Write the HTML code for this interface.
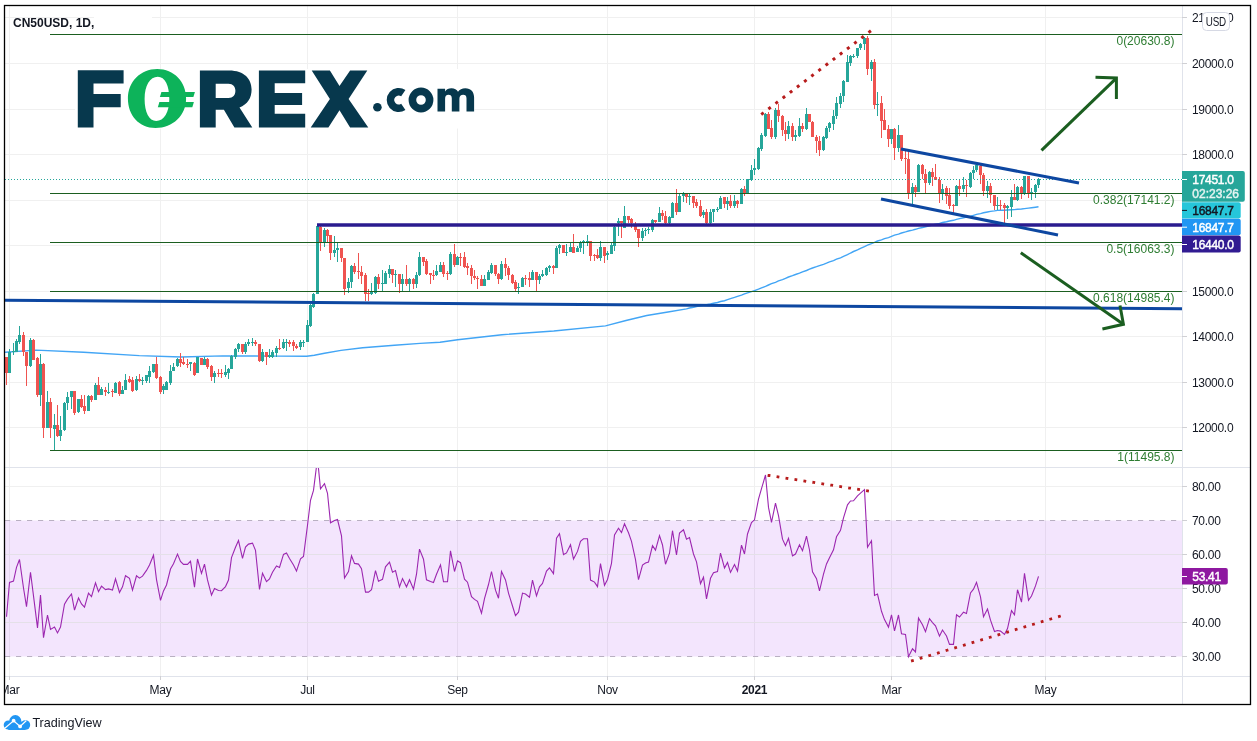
<!DOCTYPE html>
<html><head><meta charset="utf-8"><style>
html,body{margin:0;padding:0;background:#fff;}
body{width:1257px;height:741px;overflow:hidden;position:relative;font-family:"Liberation Sans",sans-serif;}
svg{position:absolute;left:0;top:0;will-change:transform;}
.ax{font-size:12px;letter-spacing:-0.3px;fill:#131722;}
.b{font-weight:bold;}
.fibt{font-size:12px;fill:#2e7d32;}
.lbl text{font-size:12px;letter-spacing:-0.3px;stroke-width:0.45px;}
</style></head><body>
<svg width="1257" height="741" viewBox="0 0 1257 741">
<defs>
<clipPath id="cm"><rect x="5" y="6" width="1177" height="461"/></clipPath>
<clipPath id="ct"><rect x="5" y="677" width="1177" height="27"/></clipPath>
<clipPath id="cr"><rect x="5" y="468" width="1177" height="208"/></clipPath>
</defs>
<line x1="5" y1="17.5" x2="1182" y2="17.5" stroke="#f0f0f0" stroke-width="1"/>
<line x1="5" y1="63.5" x2="1182" y2="63.5" stroke="#f0f0f0" stroke-width="1"/>
<line x1="5" y1="109.5" x2="1182" y2="109.5" stroke="#f0f0f0" stroke-width="1"/>
<line x1="5" y1="154.5" x2="1182" y2="154.5" stroke="#f0f0f0" stroke-width="1"/>
<line x1="5" y1="200.5" x2="1182" y2="200.5" stroke="#f0f0f0" stroke-width="1"/>
<line x1="5" y1="245.5" x2="1182" y2="245.5" stroke="#f0f0f0" stroke-width="1"/>
<line x1="5" y1="291.5" x2="1182" y2="291.5" stroke="#f0f0f0" stroke-width="1"/>
<line x1="5" y1="336.5" x2="1182" y2="336.5" stroke="#f0f0f0" stroke-width="1"/>
<line x1="5" y1="382.5" x2="1182" y2="382.5" stroke="#f0f0f0" stroke-width="1"/>
<line x1="5" y1="427.5" x2="1182" y2="427.5" stroke="#f0f0f0" stroke-width="1"/>
<line x1="5" y1="486.5" x2="1182" y2="486.5" stroke="#f0f0f0" stroke-width="1"/>
<line x1="5" y1="554.5" x2="1182" y2="554.5" stroke="#f0f0f0" stroke-width="1"/>
<line x1="5" y1="588.5" x2="1182" y2="588.5" stroke="#f0f0f0" stroke-width="1"/>
<line x1="5" y1="622.5" x2="1182" y2="622.5" stroke="#f0f0f0" stroke-width="1"/>
<line x1="9.5" y1="6" x2="9.5" y2="680" stroke="#f0f0f0" stroke-width="1"/>
<line x1="160.5" y1="6" x2="160.5" y2="680" stroke="#f0f0f0" stroke-width="1"/>
<line x1="307.5" y1="6" x2="307.5" y2="680" stroke="#f0f0f0" stroke-width="1"/>
<line x1="457.5" y1="6" x2="457.5" y2="680" stroke="#f0f0f0" stroke-width="1"/>
<line x1="607.5" y1="6" x2="607.5" y2="680" stroke="#f0f0f0" stroke-width="1"/>
<line x1="754.5" y1="6" x2="754.5" y2="680" stroke="#f0f0f0" stroke-width="1"/>
<line x1="891.5" y1="6" x2="891.5" y2="680" stroke="#f0f0f0" stroke-width="1"/>
<line x1="1045.5" y1="6" x2="1045.5" y2="680" stroke="#f0f0f0" stroke-width="1"/>
<g clip-path="url(#cr)">
<rect x="5" y="520.5" width="1177" height="136.0" fill="rgba(160,40,240,0.12)"/>
<line x1="5" y1="554.5" x2="1182" y2="554.5" stroke="#e4e0e8"/>
<line x1="5" y1="588.5" x2="1182" y2="588.5" stroke="#e4e0e8"/>
<line x1="5" y1="622.5" x2="1182" y2="622.5" stroke="#e4e0e8"/>
<line x1="5" y1="520.5" x2="1182" y2="520.5" stroke="#b9b0c2" stroke-dasharray="5.2,5.8"/>
<line x1="5" y1="656.5" x2="1182" y2="656.5" stroke="#b9b0c2" stroke-dasharray="5.2,5.8"/>
<polyline points="6.5,616.8 9.5,582.4 13.5,581.1 16.5,567.4 19.5,559.5 23.5,588.0 26.5,606.7 30.5,572.3 33.5,595.9 37.5,627.9 40.5,595.1 43.5,637.6 47.5,615.0 50.5,629.4 54.5,627.1 57.5,632.9 60.5,627.1 64.5,604.1 67.5,599.1 71.5,594.0 74.5,610.1 78.5,598.0 81.5,604.0 84.5,607.1 88.5,593.2 91.5,596.6 95.5,582.8 98.5,591.7 101.5,586.2 105.5,589.6 108.5,588.9 112.5,590.0 115.5,578.8 119.5,592.5 122.5,586.8 125.5,575.7 129.5,578.4 132.5,590.2 136.5,575.8 139.5,578.1 142.5,576.1 146.5,570.4 149.5,564.9 153.5,555.2 156.5,579.6 160.5,600.3 163.5,590.9 166.5,585.0 170.5,569.0 173.5,563.8 177.5,554.1 180.5,561.5 183.5,564.4 187.5,564.4 190.5,561.2 194.5,587.1 197.5,559.0 201.5,573.3 204.5,564.1 207.5,579.9 211.5,595.1 214.5,588.5 218.5,590.5 221.5,590.7 225.5,586.6 228.5,580.1 231.5,557.6 235.5,547.3 238.5,540.6 242.5,558.3 245.5,547.1 248.5,544.1 252.5,543.1 255.5,550.4 259.5,589.5 262.5,573.2 266.5,581.6 269.5,578.9 272.5,572.3 276.5,565.9 279.5,567.5 283.5,554.4 286.5,553.0 289.5,558.5 293.5,564.9 296.5,571.1 300.5,558.8 303.5,556.4 307.5,525.2 310.5,500.3 313.5,490.4 317.5,458.5 320.5,488.8 324.5,483.6 327.5,493.3 330.5,522.8 334.5,520.6 337.5,519.5 341.5,535.8 344.5,578.1 348.5,571.5 351.5,555.8 354.5,563.4 358.5,564.1 361.5,568.7 365.5,592.1 368.5,592.1 371.5,589.8 375.5,570.7 378.5,581.3 382.5,579.3 385.5,566.8 389.5,562.1 392.5,572.2 395.5,570.6 399.5,586.9 402.5,578.6 406.5,586.8 409.5,579.7 413.5,589.2 416.5,574.2 419.5,549.1 423.5,559.2 426.5,579.8 430.5,581.6 433.5,582.5 436.5,574.3 440.5,564.9 443.5,581.7 447.5,581.7 450.5,550.9 454.5,571.5 457.5,560.8 460.5,562.7 464.5,579.2 467.5,582.2 471.5,596.7 474.5,599.4 477.5,601.4 481.5,613.1 484.5,598.7 488.5,584.5 491.5,571.5 495.5,590.2 498.5,598.2 501.5,571.5 505.5,579.9 508.5,593.1 512.5,606.0 515.5,615.7 518.5,612.2 522.5,593.1 525.5,594.1 529.5,597.3 532.5,580.1 536.5,595.9 539.5,586.8 542.5,583.4 546.5,571.1 549.5,567.9 553.5,573.6 556.5,538.2 559.5,533.6 563.5,554.6 566.5,552.9 570.5,544.7 573.5,559.1 577.5,551.4 580.5,541.4 583.5,538.8 587.5,538.8 590.5,580.1 594.5,582.1 597.5,586.6 600.5,563.6 604.5,585.3 607.5,579.5 611.5,563.3 614.5,535.0 618.5,528.2 621.5,532.6 624.5,523.7 628.5,532.7 631.5,541.3 635.5,559.6 638.5,579.7 642.5,565.1 645.5,563.1 648.5,562.1 652.5,545.6 655.5,550.1 659.5,535.7 662.5,545.0 665.5,564.2 669.5,553.2 672.5,530.7 676.5,555.0 679.5,533.0 683.5,529.8 686.5,539.2 689.5,537.6 693.5,554.0 696.5,561.8 700.5,583.6 703.5,577.2 706.5,598.9 710.5,578.3 713.5,572.7 717.5,571.6 720.5,553.2 724.5,568.0 727.5,562.5 730.5,572.4 734.5,564.5 737.5,571.0 741.5,545.2 744.5,554.0 747.5,534.0 751.5,522.5 754.5,519.8 758.5,499.1 761.5,488.6 765.5,475.0 768.5,507.4 771.5,522.4 775.5,503.2 778.5,515.6 782.5,539.2 785.5,545.7 788.5,538.4 792.5,555.8 795.5,554.0 799.5,544.7 802.5,550.7 806.5,536.1 809.5,550.0 812.5,571.9 816.5,578.7 819.5,590.8 823.5,574.2 826.5,563.9 829.5,557.8 833.5,549.8 836.5,536.8 840.5,530.3 843.5,517.9 847.5,504.8 850.5,501.0 853.5,500.8 857.5,495.8 860.5,493.1 864.5,489.7 867.5,547.3 871.5,540.7 874.5,595.4 877.5,594.1 881.5,611.3 884.5,619.6 888.5,627.1 891.5,614.9 894.5,630.9 898.5,615.0 901.5,633.8 905.5,634.4 908.5,656.7 912.5,648.8 915.5,651.9 918.5,618.1 922.5,624.8 925.5,631.7 929.5,618.6 932.5,622.6 935.5,625.8 939.5,636.1 942.5,630.0 946.5,636.0 949.5,644.4 953.5,644.4 956.5,614.7 959.5,617.0 963.5,612.2 966.5,613.4 970.5,593.0 973.5,589.2 976.5,582.3 980.5,596.9 983.5,616.7 987.5,609.0 990.5,620.2 994.5,631.5 997.5,630.5 1000.5,631.1 1004.5,634.5 1007.5,628.6 1011.5,610.6 1014.5,614.7 1017.5,589.7 1021.5,602.2 1024.5,573.3 1028.5,600.2 1031.5,596.0 1035.5,585.9 1038.5,576.3" fill="none" stroke="#9c27b0" stroke-width="1.1"/>
<line x1="769" y1="475.5" x2="867.99" y2="490.88" stroke="#b71c1c" stroke-width="2.8" stroke-linecap="square" stroke-dasharray="0.01,9.052"/>
<line x1="912.4" y1="660.7" x2="1059.88" y2="616.26" stroke="#b71c1c" stroke-width="2.8" stroke-linecap="square" stroke-dasharray="0.01,9.021"/>
</g>
<g clip-path="url(#cm)">
<polyline points="5.0,352.3 36.2,350.1 83.6,352.3 139.3,355.6 181.0,357.0 222.8,355.9 278.6,356.1 306.7,356.3 314.3,355.2 324.5,353.3 341.0,350.4 362.7,347.8 394.5,345.3 420.0,343.4 440.0,342.3 457.6,339.7 502.0,334.7 553.8,331.0 605.5,325.9 626.0,320.5 646.8,315.5 668.0,312.0 686.5,308.9 689.5,308.0 693.5,307.3 696.5,306.5 700.5,305.9 703.5,305.3 706.5,304.7 710.5,303.9 713.5,303.2 717.5,302.5 720.5,301.5 724.5,300.7 727.5,299.6 730.5,298.6 734.5,297.4 737.5,296.3 741.5,295.1 744.5,293.9 747.5,292.8 751.5,291.7 754.5,290.6 758.5,289.2 761.5,287.9 765.5,286.4 768.5,285.0 771.5,283.7 775.5,282.3 778.5,280.9 782.5,279.6 785.5,278.3 788.5,277.0 792.5,275.7 795.5,274.5 799.5,273.2 802.5,271.9 806.5,270.5 809.5,269.2 812.5,268.0 816.5,266.7 819.5,265.6 823.5,264.3 826.5,263.1 829.5,261.8 833.5,260.6 836.5,259.2 840.5,257.8 843.5,256.3 847.5,254.7 850.5,253.0 853.5,251.5 857.5,249.9 860.5,248.3 864.5,246.7 867.5,245.2 871.5,243.7 874.5,242.4 877.5,241.0 881.5,239.9 884.5,238.7 888.5,237.6 891.5,236.4 894.5,235.2 898.5,234.1 901.5,233.0 905.5,231.9 908.5,231.0 912.5,230.1 915.5,229.3 918.5,228.4 922.5,227.5 925.5,226.7 929.5,225.8 932.5,225.0 935.5,224.2 939.5,223.4 942.5,222.5 946.5,221.8 949.5,221.0 953.5,220.3 956.5,219.4 959.5,218.6 963.5,217.8 966.5,217.0 970.5,216.2 973.5,215.3 976.5,214.4 980.5,213.6 983.5,212.8 987.5,212.0 990.5,211.4 994.5,210.9 997.5,210.4 1000.5,210.3 1004.5,210.2 1007.5,210.0 1011.5,209.8 1014.5,209.6 1017.5,209.3 1021.5,209.0 1024.5,208.6 1028.5,208.1 1031.5,207.7 1035.5,207.2 1038.5,206.8" fill="none" stroke="#42a5f5" stroke-width="1.4"/>
<rect x="6" y="357" width="1" height="28" fill="#ef5350"/>
<rect x="5" y="357" width="3" height="16" fill="#ef5350"/>
<rect x="9" y="349" width="1" height="24" fill="#26a69a"/>
<rect x="8" y="352" width="3" height="21" fill="#26a69a"/>
<rect x="13" y="343" width="1" height="12" fill="#26a69a"/>
<rect x="12" y="351" width="3" height="1" fill="#26a69a"/>
<rect x="16" y="339" width="1" height="13" fill="#26a69a"/>
<rect x="15" y="341" width="3" height="11" fill="#26a69a"/>
<rect x="19" y="326" width="1" height="18" fill="#26a69a"/>
<rect x="18" y="335" width="3" height="7" fill="#26a69a"/>
<rect x="23" y="332" width="1" height="24" fill="#ef5350"/>
<rect x="22" y="335" width="3" height="17" fill="#ef5350"/>
<rect x="26" y="352" width="1" height="34" fill="#ef5350"/>
<rect x="25" y="352" width="3" height="14" fill="#ef5350"/>
<rect x="30" y="338" width="1" height="29" fill="#26a69a"/>
<rect x="29" y="340" width="3" height="26" fill="#26a69a"/>
<rect x="33" y="339" width="1" height="21" fill="#ef5350"/>
<rect x="32" y="340" width="3" height="20" fill="#ef5350"/>
<rect x="37" y="357" width="1" height="40" fill="#ef5350"/>
<rect x="36" y="358" width="3" height="37" fill="#ef5350"/>
<rect x="40" y="354" width="1" height="52" fill="#26a69a"/>
<rect x="39" y="364" width="3" height="31" fill="#26a69a"/>
<rect x="43" y="363" width="1" height="75" fill="#ef5350"/>
<rect x="42" y="364" width="3" height="64" fill="#ef5350"/>
<rect x="47" y="391" width="1" height="37" fill="#26a69a"/>
<rect x="46" y="402" width="3" height="26" fill="#26a69a"/>
<rect x="50" y="398" width="1" height="40" fill="#ef5350"/>
<rect x="49" y="402" width="3" height="26" fill="#ef5350"/>
<rect x="54" y="414" width="1" height="36" fill="#26a69a"/>
<rect x="53" y="425" width="3" height="4" fill="#26a69a"/>
<rect x="57" y="405" width="1" height="32" fill="#ef5350"/>
<rect x="56" y="425" width="3" height="11" fill="#ef5350"/>
<rect x="60" y="416" width="1" height="25" fill="#26a69a"/>
<rect x="59" y="430" width="3" height="6" fill="#26a69a"/>
<rect x="64" y="402" width="1" height="29" fill="#26a69a"/>
<rect x="63" y="403" width="3" height="27" fill="#26a69a"/>
<rect x="67" y="392" width="1" height="18" fill="#26a69a"/>
<rect x="66" y="397" width="3" height="6" fill="#26a69a"/>
<rect x="71" y="391" width="1" height="18" fill="#26a69a"/>
<rect x="70" y="391" width="3" height="6" fill="#26a69a"/>
<rect x="74" y="391" width="1" height="24" fill="#ef5350"/>
<rect x="73" y="391" width="3" height="22" fill="#ef5350"/>
<rect x="78" y="399" width="1" height="14" fill="#26a69a"/>
<rect x="77" y="399" width="3" height="13" fill="#26a69a"/>
<rect x="81" y="395" width="1" height="13" fill="#ef5350"/>
<rect x="80" y="399" width="3" height="8" fill="#ef5350"/>
<rect x="84" y="395" width="1" height="19" fill="#ef5350"/>
<rect x="83" y="406" width="3" height="5" fill="#ef5350"/>
<rect x="88" y="395" width="1" height="16" fill="#26a69a"/>
<rect x="87" y="396" width="3" height="15" fill="#26a69a"/>
<rect x="91" y="395" width="1" height="7" fill="#ef5350"/>
<rect x="90" y="396" width="3" height="4" fill="#ef5350"/>
<rect x="95" y="383" width="1" height="17" fill="#26a69a"/>
<rect x="94" y="385" width="3" height="15" fill="#26a69a"/>
<rect x="98" y="377" width="1" height="18" fill="#ef5350"/>
<rect x="97" y="385" width="3" height="10" fill="#ef5350"/>
<rect x="101" y="387" width="1" height="8" fill="#26a69a"/>
<rect x="100" y="389" width="3" height="6" fill="#26a69a"/>
<rect x="105" y="387" width="1" height="9" fill="#ef5350"/>
<rect x="104" y="390" width="3" height="2" fill="#ef5350"/>
<rect x="108" y="383" width="1" height="11" fill="#26a69a"/>
<rect x="107" y="392" width="3" height="1" fill="#26a69a"/>
<rect x="112" y="389" width="1" height="8" fill="#ef5350"/>
<rect x="111" y="391" width="3" height="1" fill="#ef5350"/>
<rect x="115" y="382" width="1" height="11" fill="#26a69a"/>
<rect x="114" y="383" width="3" height="10" fill="#26a69a"/>
<rect x="119" y="381" width="1" height="15" fill="#ef5350"/>
<rect x="118" y="382" width="3" height="12" fill="#ef5350"/>
<rect x="122" y="386" width="1" height="8" fill="#26a69a"/>
<rect x="121" y="390" width="3" height="4" fill="#26a69a"/>
<rect x="125" y="374" width="1" height="16" fill="#26a69a"/>
<rect x="124" y="380" width="3" height="10" fill="#26a69a"/>
<rect x="129" y="376" width="1" height="7" fill="#ef5350"/>
<rect x="128" y="379" width="3" height="3" fill="#ef5350"/>
<rect x="132" y="377" width="1" height="15" fill="#ef5350"/>
<rect x="131" y="380" width="3" height="11" fill="#ef5350"/>
<rect x="136" y="376" width="1" height="15" fill="#26a69a"/>
<rect x="135" y="379" width="3" height="11" fill="#26a69a"/>
<rect x="139" y="374" width="1" height="8" fill="#ef5350"/>
<rect x="138" y="379" width="3" height="2" fill="#ef5350"/>
<rect x="142" y="377" width="1" height="8" fill="#26a69a"/>
<rect x="141" y="380" width="3" height="1" fill="#26a69a"/>
<rect x="146" y="375" width="1" height="8" fill="#26a69a"/>
<rect x="145" y="375" width="3" height="6" fill="#26a69a"/>
<rect x="149" y="366" width="1" height="17" fill="#26a69a"/>
<rect x="148" y="371" width="3" height="6" fill="#26a69a"/>
<rect x="153" y="364" width="1" height="9" fill="#26a69a"/>
<rect x="152" y="364" width="3" height="8" fill="#26a69a"/>
<rect x="156" y="357" width="1" height="22" fill="#ef5350"/>
<rect x="155" y="364" width="3" height="14" fill="#ef5350"/>
<rect x="160" y="376" width="1" height="18" fill="#ef5350"/>
<rect x="159" y="377" width="3" height="15" fill="#ef5350"/>
<rect x="163" y="384" width="1" height="10" fill="#26a69a"/>
<rect x="162" y="386" width="3" height="4" fill="#26a69a"/>
<rect x="166" y="381" width="1" height="9" fill="#26a69a"/>
<rect x="165" y="382" width="3" height="8" fill="#26a69a"/>
<rect x="170" y="365" width="1" height="20" fill="#26a69a"/>
<rect x="169" y="371" width="3" height="12" fill="#26a69a"/>
<rect x="173" y="363" width="1" height="8" fill="#26a69a"/>
<rect x="172" y="367" width="3" height="4" fill="#26a69a"/>
<rect x="177" y="358" width="1" height="9" fill="#26a69a"/>
<rect x="176" y="359" width="3" height="7" fill="#26a69a"/>
<rect x="180" y="353" width="1" height="14" fill="#ef5350"/>
<rect x="179" y="359" width="3" height="4" fill="#ef5350"/>
<rect x="183" y="357" width="1" height="8" fill="#ef5350"/>
<rect x="182" y="362" width="3" height="2" fill="#ef5350"/>
<rect x="187" y="359" width="1" height="9" fill="#ef5350"/>
<rect x="186" y="364" width="3" height="1" fill="#ef5350"/>
<rect x="190" y="362" width="1" height="9" fill="#26a69a"/>
<rect x="189" y="362" width="3" height="2" fill="#26a69a"/>
<rect x="194" y="362" width="1" height="14" fill="#ef5350"/>
<rect x="193" y="363" width="3" height="12" fill="#ef5350"/>
<rect x="197" y="357" width="1" height="16" fill="#26a69a"/>
<rect x="196" y="357" width="3" height="16" fill="#26a69a"/>
<rect x="201" y="358" width="1" height="7" fill="#ef5350"/>
<rect x="200" y="358" width="3" height="7" fill="#ef5350"/>
<rect x="204" y="357" width="1" height="8" fill="#26a69a"/>
<rect x="203" y="359" width="3" height="6" fill="#26a69a"/>
<rect x="207" y="358" width="1" height="11" fill="#ef5350"/>
<rect x="206" y="359" width="3" height="8" fill="#ef5350"/>
<rect x="211" y="365" width="1" height="16" fill="#ef5350"/>
<rect x="210" y="366" width="3" height="11" fill="#ef5350"/>
<rect x="214" y="371" width="1" height="12" fill="#26a69a"/>
<rect x="213" y="373" width="3" height="4" fill="#26a69a"/>
<rect x="218" y="369" width="1" height="8" fill="#ef5350"/>
<rect x="217" y="373" width="3" height="1" fill="#ef5350"/>
<rect x="221" y="369" width="1" height="9" fill="#ef5350"/>
<rect x="220" y="373" width="3" height="1" fill="#ef5350"/>
<rect x="225" y="365" width="1" height="12" fill="#26a69a"/>
<rect x="224" y="372" width="3" height="3" fill="#26a69a"/>
<rect x="228" y="368" width="1" height="11" fill="#26a69a"/>
<rect x="227" y="369" width="3" height="4" fill="#26a69a"/>
<rect x="231" y="355" width="1" height="14" fill="#26a69a"/>
<rect x="230" y="356" width="3" height="13" fill="#26a69a"/>
<rect x="235" y="348" width="1" height="11" fill="#26a69a"/>
<rect x="234" y="349" width="3" height="8" fill="#26a69a"/>
<rect x="238" y="343" width="1" height="9" fill="#26a69a"/>
<rect x="237" y="344" width="3" height="5" fill="#26a69a"/>
<rect x="242" y="344" width="1" height="10" fill="#ef5350"/>
<rect x="241" y="344" width="3" height="8" fill="#ef5350"/>
<rect x="245" y="342" width="1" height="12" fill="#26a69a"/>
<rect x="244" y="344" width="3" height="8" fill="#26a69a"/>
<rect x="248" y="339" width="1" height="7" fill="#26a69a"/>
<rect x="247" y="342" width="3" height="2" fill="#26a69a"/>
<rect x="252" y="338" width="1" height="8" fill="#26a69a"/>
<rect x="251" y="342" width="3" height="1" fill="#26a69a"/>
<rect x="255" y="340" width="1" height="6" fill="#ef5350"/>
<rect x="254" y="342" width="3" height="2" fill="#ef5350"/>
<rect x="259" y="344" width="1" height="18" fill="#ef5350"/>
<rect x="258" y="344" width="3" height="17" fill="#ef5350"/>
<rect x="262" y="349" width="1" height="13" fill="#26a69a"/>
<rect x="261" y="352" width="3" height="9" fill="#26a69a"/>
<rect x="266" y="352" width="1" height="13" fill="#ef5350"/>
<rect x="265" y="352" width="3" height="5" fill="#ef5350"/>
<rect x="269" y="349" width="1" height="9" fill="#26a69a"/>
<rect x="268" y="355" width="3" height="2" fill="#26a69a"/>
<rect x="272" y="350" width="1" height="8" fill="#26a69a"/>
<rect x="271" y="352" width="3" height="5" fill="#26a69a"/>
<rect x="276" y="346" width="1" height="11" fill="#26a69a"/>
<rect x="275" y="348" width="3" height="5" fill="#26a69a"/>
<rect x="279" y="339" width="1" height="11" fill="#ef5350"/>
<rect x="278" y="348" width="3" height="1" fill="#ef5350"/>
<rect x="283" y="339" width="1" height="10" fill="#26a69a"/>
<rect x="282" y="342" width="3" height="6" fill="#26a69a"/>
<rect x="286" y="339" width="1" height="12" fill="#26a69a"/>
<rect x="285" y="342" width="3" height="1" fill="#26a69a"/>
<rect x="289" y="340" width="1" height="7" fill="#ef5350"/>
<rect x="288" y="342" width="3" height="2" fill="#ef5350"/>
<rect x="293" y="340" width="1" height="11" fill="#ef5350"/>
<rect x="292" y="342" width="3" height="4" fill="#ef5350"/>
<rect x="296" y="344" width="1" height="5" fill="#ef5350"/>
<rect x="295" y="346" width="3" height="2" fill="#ef5350"/>
<rect x="300" y="340" width="1" height="10" fill="#26a69a"/>
<rect x="299" y="342" width="3" height="5" fill="#26a69a"/>
<rect x="303" y="340" width="1" height="7" fill="#26a69a"/>
<rect x="302" y="342" width="3" height="1" fill="#26a69a"/>
<rect x="307" y="320" width="1" height="22" fill="#26a69a"/>
<rect x="306" y="325" width="3" height="17" fill="#26a69a"/>
<rect x="310" y="304" width="1" height="23" fill="#26a69a"/>
<rect x="309" y="305" width="3" height="21" fill="#26a69a"/>
<rect x="313" y="293" width="1" height="15" fill="#26a69a"/>
<rect x="312" y="294" width="3" height="13" fill="#26a69a"/>
<rect x="317" y="225" width="1" height="69" fill="#26a69a"/>
<rect x="316" y="226" width="3" height="68" fill="#26a69a"/>
<rect x="320" y="226" width="1" height="25" fill="#ef5350"/>
<rect x="319" y="227" width="3" height="15" fill="#ef5350"/>
<rect x="324" y="228" width="1" height="19" fill="#26a69a"/>
<rect x="323" y="230" width="3" height="12" fill="#26a69a"/>
<rect x="327" y="229" width="1" height="13" fill="#ef5350"/>
<rect x="326" y="230" width="3" height="6" fill="#ef5350"/>
<rect x="330" y="235" width="1" height="25" fill="#ef5350"/>
<rect x="329" y="235" width="3" height="18" fill="#ef5350"/>
<rect x="334" y="236" width="1" height="21" fill="#26a69a"/>
<rect x="333" y="250" width="3" height="3" fill="#26a69a"/>
<rect x="337" y="243" width="1" height="19" fill="#26a69a"/>
<rect x="336" y="248" width="3" height="2" fill="#26a69a"/>
<rect x="341" y="248" width="1" height="14" fill="#ef5350"/>
<rect x="340" y="248" width="3" height="10" fill="#ef5350"/>
<rect x="344" y="258" width="1" height="37" fill="#ef5350"/>
<rect x="343" y="258" width="3" height="31" fill="#ef5350"/>
<rect x="348" y="278" width="1" height="15" fill="#26a69a"/>
<rect x="347" y="282" width="3" height="6" fill="#26a69a"/>
<rect x="351" y="265" width="1" height="23" fill="#26a69a"/>
<rect x="350" y="266" width="3" height="16" fill="#26a69a"/>
<rect x="354" y="263" width="1" height="11" fill="#ef5350"/>
<rect x="353" y="266" width="3" height="6" fill="#ef5350"/>
<rect x="358" y="253" width="1" height="26" fill="#ef5350"/>
<rect x="357" y="271" width="3" height="1" fill="#ef5350"/>
<rect x="361" y="266" width="1" height="18" fill="#ef5350"/>
<rect x="360" y="272" width="3" height="4" fill="#ef5350"/>
<rect x="365" y="273" width="1" height="28" fill="#ef5350"/>
<rect x="364" y="275" width="3" height="19" fill="#ef5350"/>
<rect x="368" y="289" width="1" height="12" fill="#ef5350"/>
<rect x="367" y="293" width="3" height="1" fill="#ef5350"/>
<rect x="371" y="283" width="1" height="12" fill="#26a69a"/>
<rect x="370" y="292" width="3" height="2" fill="#26a69a"/>
<rect x="375" y="276" width="1" height="18" fill="#26a69a"/>
<rect x="374" y="277" width="3" height="16" fill="#26a69a"/>
<rect x="378" y="274" width="1" height="15" fill="#ef5350"/>
<rect x="377" y="277" width="3" height="7" fill="#ef5350"/>
<rect x="382" y="270" width="1" height="21" fill="#26a69a"/>
<rect x="381" y="283" width="3" height="1" fill="#26a69a"/>
<rect x="385" y="271" width="1" height="13" fill="#26a69a"/>
<rect x="384" y="273" width="3" height="11" fill="#26a69a"/>
<rect x="389" y="265" width="1" height="13" fill="#26a69a"/>
<rect x="388" y="269" width="3" height="5" fill="#26a69a"/>
<rect x="392" y="269" width="1" height="14" fill="#ef5350"/>
<rect x="391" y="269" width="3" height="6" fill="#ef5350"/>
<rect x="395" y="270" width="1" height="17" fill="#26a69a"/>
<rect x="394" y="274" width="3" height="1" fill="#26a69a"/>
<rect x="399" y="274" width="1" height="19" fill="#ef5350"/>
<rect x="398" y="274" width="3" height="10" fill="#ef5350"/>
<rect x="402" y="274" width="1" height="17" fill="#26a69a"/>
<rect x="401" y="279" width="3" height="5" fill="#26a69a"/>
<rect x="406" y="265" width="1" height="21" fill="#ef5350"/>
<rect x="405" y="279" width="3" height="5" fill="#ef5350"/>
<rect x="409" y="278" width="1" height="13" fill="#26a69a"/>
<rect x="408" y="279" width="3" height="5" fill="#26a69a"/>
<rect x="413" y="278" width="1" height="11" fill="#ef5350"/>
<rect x="412" y="279" width="3" height="5" fill="#ef5350"/>
<rect x="416" y="272" width="1" height="16" fill="#26a69a"/>
<rect x="415" y="275" width="3" height="9" fill="#26a69a"/>
<rect x="419" y="252" width="1" height="24" fill="#26a69a"/>
<rect x="418" y="257" width="3" height="18" fill="#26a69a"/>
<rect x="423" y="257" width="1" height="9" fill="#ef5350"/>
<rect x="422" y="257" width="3" height="5" fill="#ef5350"/>
<rect x="426" y="259" width="1" height="16" fill="#ef5350"/>
<rect x="425" y="261" width="3" height="13" fill="#ef5350"/>
<rect x="430" y="273" width="1" height="11" fill="#ef5350"/>
<rect x="429" y="273" width="3" height="2" fill="#ef5350"/>
<rect x="433" y="270" width="1" height="10" fill="#ef5350"/>
<rect x="432" y="275" width="3" height="1" fill="#ef5350"/>
<rect x="436" y="265" width="1" height="11" fill="#26a69a"/>
<rect x="435" y="271" width="3" height="4" fill="#26a69a"/>
<rect x="440" y="262" width="1" height="10" fill="#26a69a"/>
<rect x="439" y="265" width="3" height="7" fill="#26a69a"/>
<rect x="443" y="262" width="1" height="15" fill="#ef5350"/>
<rect x="442" y="265" width="3" height="9" fill="#ef5350"/>
<rect x="447" y="271" width="1" height="9" fill="#ef5350"/>
<rect x="446" y="273" width="3" height="1" fill="#ef5350"/>
<rect x="450" y="252" width="1" height="23" fill="#26a69a"/>
<rect x="449" y="254" width="3" height="20" fill="#26a69a"/>
<rect x="454" y="244" width="1" height="23" fill="#ef5350"/>
<rect x="453" y="254" width="3" height="11" fill="#ef5350"/>
<rect x="457" y="256" width="1" height="9" fill="#26a69a"/>
<rect x="456" y="257" width="3" height="8" fill="#26a69a"/>
<rect x="460" y="253" width="1" height="13" fill="#ef5350"/>
<rect x="459" y="257" width="3" height="1" fill="#ef5350"/>
<rect x="464" y="252" width="1" height="16" fill="#ef5350"/>
<rect x="463" y="257" width="3" height="10" fill="#ef5350"/>
<rect x="467" y="263" width="1" height="12" fill="#ef5350"/>
<rect x="466" y="266" width="3" height="2" fill="#ef5350"/>
<rect x="471" y="265" width="1" height="19" fill="#ef5350"/>
<rect x="470" y="268" width="3" height="8" fill="#ef5350"/>
<rect x="474" y="270" width="1" height="10" fill="#ef5350"/>
<rect x="473" y="276" width="3" height="2" fill="#ef5350"/>
<rect x="477" y="276" width="1" height="13" fill="#ef5350"/>
<rect x="476" y="278" width="3" height="1" fill="#ef5350"/>
<rect x="481" y="275" width="1" height="11" fill="#ef5350"/>
<rect x="480" y="279" width="3" height="7" fill="#ef5350"/>
<rect x="484" y="275" width="1" height="11" fill="#26a69a"/>
<rect x="483" y="279" width="3" height="7" fill="#26a69a"/>
<rect x="488" y="270" width="1" height="10" fill="#26a69a"/>
<rect x="487" y="272" width="3" height="8" fill="#26a69a"/>
<rect x="491" y="263" width="1" height="11" fill="#26a69a"/>
<rect x="490" y="265" width="3" height="8" fill="#26a69a"/>
<rect x="495" y="265" width="1" height="11" fill="#ef5350"/>
<rect x="494" y="265" width="3" height="9" fill="#ef5350"/>
<rect x="498" y="273" width="1" height="11" fill="#ef5350"/>
<rect x="497" y="274" width="3" height="5" fill="#ef5350"/>
<rect x="501" y="261" width="1" height="19" fill="#26a69a"/>
<rect x="500" y="264" width="3" height="15" fill="#26a69a"/>
<rect x="505" y="258" width="1" height="18" fill="#ef5350"/>
<rect x="504" y="264" width="3" height="4" fill="#ef5350"/>
<rect x="508" y="266" width="1" height="14" fill="#ef5350"/>
<rect x="507" y="268" width="3" height="7" fill="#ef5350"/>
<rect x="512" y="274" width="1" height="10" fill="#ef5350"/>
<rect x="511" y="275" width="3" height="8" fill="#ef5350"/>
<rect x="515" y="280" width="1" height="11" fill="#ef5350"/>
<rect x="514" y="282" width="3" height="7" fill="#ef5350"/>
<rect x="518" y="283" width="1" height="11" fill="#26a69a"/>
<rect x="517" y="287" width="3" height="1" fill="#26a69a"/>
<rect x="522" y="277" width="1" height="10" fill="#26a69a"/>
<rect x="521" y="278" width="3" height="9" fill="#26a69a"/>
<rect x="525" y="275" width="1" height="10" fill="#ef5350"/>
<rect x="524" y="278" width="3" height="1" fill="#ef5350"/>
<rect x="529" y="272" width="1" height="15" fill="#ef5350"/>
<rect x="528" y="278" width="3" height="2" fill="#ef5350"/>
<rect x="532" y="270" width="1" height="10" fill="#26a69a"/>
<rect x="531" y="272" width="3" height="8" fill="#26a69a"/>
<rect x="536" y="272" width="1" height="19" fill="#ef5350"/>
<rect x="535" y="272" width="3" height="8" fill="#ef5350"/>
<rect x="539" y="274" width="1" height="10" fill="#26a69a"/>
<rect x="538" y="276" width="3" height="4" fill="#26a69a"/>
<rect x="542" y="270" width="1" height="7" fill="#26a69a"/>
<rect x="541" y="274" width="3" height="2" fill="#26a69a"/>
<rect x="546" y="267" width="1" height="9" fill="#26a69a"/>
<rect x="545" y="268" width="3" height="7" fill="#26a69a"/>
<rect x="549" y="265" width="1" height="7" fill="#26a69a"/>
<rect x="548" y="266" width="3" height="2" fill="#26a69a"/>
<rect x="553" y="265" width="1" height="9" fill="#ef5350"/>
<rect x="552" y="266" width="3" height="2" fill="#ef5350"/>
<rect x="556" y="246" width="1" height="22" fill="#26a69a"/>
<rect x="555" y="248" width="3" height="20" fill="#26a69a"/>
<rect x="559" y="244" width="1" height="10" fill="#26a69a"/>
<rect x="558" y="245" width="3" height="3" fill="#26a69a"/>
<rect x="563" y="245" width="1" height="8" fill="#ef5350"/>
<rect x="562" y="245" width="3" height="8" fill="#ef5350"/>
<rect x="566" y="244" width="1" height="12" fill="#26a69a"/>
<rect x="565" y="252" width="3" height="1" fill="#26a69a"/>
<rect x="570" y="243" width="1" height="9" fill="#26a69a"/>
<rect x="569" y="247" width="3" height="5" fill="#26a69a"/>
<rect x="573" y="234" width="1" height="19" fill="#ef5350"/>
<rect x="572" y="247" width="3" height="6" fill="#ef5350"/>
<rect x="577" y="246" width="1" height="6" fill="#26a69a"/>
<rect x="576" y="248" width="3" height="4" fill="#26a69a"/>
<rect x="580" y="241" width="1" height="11" fill="#26a69a"/>
<rect x="579" y="242" width="3" height="6" fill="#26a69a"/>
<rect x="583" y="240" width="1" height="14" fill="#26a69a"/>
<rect x="582" y="241" width="3" height="1" fill="#26a69a"/>
<rect x="587" y="235" width="1" height="11" fill="#26a69a"/>
<rect x="586" y="241" width="3" height="1" fill="#26a69a"/>
<rect x="590" y="241" width="1" height="20" fill="#ef5350"/>
<rect x="589" y="241" width="3" height="15" fill="#ef5350"/>
<rect x="594" y="254" width="1" height="7" fill="#ef5350"/>
<rect x="593" y="255" width="3" height="1" fill="#ef5350"/>
<rect x="597" y="249" width="1" height="10" fill="#ef5350"/>
<rect x="596" y="255" width="3" height="3" fill="#ef5350"/>
<rect x="600" y="241" width="1" height="20" fill="#26a69a"/>
<rect x="599" y="247" width="3" height="11" fill="#26a69a"/>
<rect x="604" y="247" width="1" height="16" fill="#ef5350"/>
<rect x="603" y="247" width="3" height="9" fill="#ef5350"/>
<rect x="607" y="251" width="1" height="9" fill="#26a69a"/>
<rect x="606" y="253" width="3" height="2" fill="#26a69a"/>
<rect x="611" y="243" width="1" height="11" fill="#26a69a"/>
<rect x="610" y="245" width="3" height="9" fill="#26a69a"/>
<rect x="614" y="226" width="1" height="25" fill="#26a69a"/>
<rect x="613" y="227" width="3" height="19" fill="#26a69a"/>
<rect x="618" y="218" width="1" height="18" fill="#26a69a"/>
<rect x="617" y="221" width="3" height="2" fill="#26a69a"/>
<rect x="621" y="221" width="1" height="17" fill="#ef5350"/>
<rect x="620" y="221" width="3" height="2" fill="#ef5350"/>
<rect x="624" y="206" width="1" height="22" fill="#26a69a"/>
<rect x="623" y="216" width="3" height="12" fill="#26a69a"/>
<rect x="628" y="216" width="1" height="7" fill="#ef5350"/>
<rect x="627" y="216" width="3" height="4" fill="#ef5350"/>
<rect x="631" y="218" width="1" height="10" fill="#ef5350"/>
<rect x="630" y="219" width="3" height="4" fill="#ef5350"/>
<rect x="635" y="222" width="1" height="10" fill="#ef5350"/>
<rect x="634" y="224" width="3" height="6" fill="#ef5350"/>
<rect x="638" y="229" width="1" height="18" fill="#ef5350"/>
<rect x="637" y="229" width="3" height="9" fill="#ef5350"/>
<rect x="642" y="228" width="1" height="13" fill="#26a69a"/>
<rect x="641" y="231" width="3" height="7" fill="#26a69a"/>
<rect x="645" y="228" width="1" height="8" fill="#26a69a"/>
<rect x="644" y="230" width="3" height="1" fill="#26a69a"/>
<rect x="648" y="227" width="1" height="7" fill="#26a69a"/>
<rect x="647" y="229" width="3" height="1" fill="#26a69a"/>
<rect x="652" y="219" width="1" height="13" fill="#26a69a"/>
<rect x="651" y="220" width="3" height="10" fill="#26a69a"/>
<rect x="655" y="220" width="1" height="3" fill="#ef5350"/>
<rect x="654" y="220" width="3" height="2" fill="#ef5350"/>
<rect x="659" y="207" width="1" height="15" fill="#26a69a"/>
<rect x="658" y="213" width="3" height="9" fill="#26a69a"/>
<rect x="662" y="210" width="1" height="10" fill="#ef5350"/>
<rect x="661" y="213" width="3" height="3" fill="#ef5350"/>
<rect x="665" y="211" width="1" height="13" fill="#ef5350"/>
<rect x="664" y="216" width="3" height="7" fill="#ef5350"/>
<rect x="669" y="216" width="1" height="8" fill="#26a69a"/>
<rect x="668" y="217" width="3" height="6" fill="#26a69a"/>
<rect x="672" y="202" width="1" height="16" fill="#26a69a"/>
<rect x="671" y="203" width="3" height="15" fill="#26a69a"/>
<rect x="676" y="189" width="1" height="26" fill="#ef5350"/>
<rect x="675" y="203" width="3" height="9" fill="#ef5350"/>
<rect x="679" y="194" width="1" height="18" fill="#26a69a"/>
<rect x="678" y="196" width="3" height="16" fill="#26a69a"/>
<rect x="683" y="192" width="1" height="10" fill="#26a69a"/>
<rect x="682" y="194" width="3" height="2" fill="#26a69a"/>
<rect x="686" y="194" width="1" height="9" fill="#ef5350"/>
<rect x="685" y="194" width="3" height="3" fill="#ef5350"/>
<rect x="689" y="194" width="1" height="11" fill="#26a69a"/>
<rect x="688" y="196" width="3" height="1" fill="#26a69a"/>
<rect x="693" y="196" width="1" height="12" fill="#ef5350"/>
<rect x="692" y="196" width="3" height="7" fill="#ef5350"/>
<rect x="696" y="199" width="1" height="9" fill="#ef5350"/>
<rect x="695" y="202" width="3" height="4" fill="#ef5350"/>
<rect x="700" y="200" width="1" height="17" fill="#ef5350"/>
<rect x="699" y="206" width="3" height="10" fill="#ef5350"/>
<rect x="703" y="210" width="1" height="8" fill="#26a69a"/>
<rect x="702" y="212" width="3" height="3" fill="#26a69a"/>
<rect x="706" y="209" width="1" height="15" fill="#ef5350"/>
<rect x="705" y="212" width="3" height="11" fill="#ef5350"/>
<rect x="710" y="209" width="1" height="15" fill="#26a69a"/>
<rect x="709" y="212" width="3" height="11" fill="#26a69a"/>
<rect x="713" y="209" width="1" height="13" fill="#26a69a"/>
<rect x="712" y="209" width="3" height="3" fill="#26a69a"/>
<rect x="717" y="207" width="1" height="5" fill="#26a69a"/>
<rect x="716" y="209" width="3" height="1" fill="#26a69a"/>
<rect x="720" y="196" width="1" height="13" fill="#26a69a"/>
<rect x="719" y="198" width="3" height="11" fill="#26a69a"/>
<rect x="724" y="197" width="1" height="11" fill="#ef5350"/>
<rect x="723" y="197" width="3" height="7" fill="#ef5350"/>
<rect x="727" y="197" width="1" height="13" fill="#26a69a"/>
<rect x="726" y="201" width="3" height="3" fill="#26a69a"/>
<rect x="730" y="195" width="1" height="13" fill="#ef5350"/>
<rect x="729" y="201" width="3" height="5" fill="#ef5350"/>
<rect x="734" y="195" width="1" height="13" fill="#26a69a"/>
<rect x="733" y="201" width="3" height="5" fill="#26a69a"/>
<rect x="737" y="200" width="1" height="8" fill="#ef5350"/>
<rect x="736" y="201" width="3" height="3" fill="#ef5350"/>
<rect x="741" y="188" width="1" height="16" fill="#26a69a"/>
<rect x="740" y="189" width="3" height="15" fill="#26a69a"/>
<rect x="744" y="186" width="1" height="10" fill="#ef5350"/>
<rect x="743" y="189" width="3" height="4" fill="#ef5350"/>
<rect x="747" y="179" width="1" height="14" fill="#26a69a"/>
<rect x="746" y="179" width="3" height="14" fill="#26a69a"/>
<rect x="751" y="165" width="1" height="16" fill="#26a69a"/>
<rect x="750" y="170" width="3" height="10" fill="#26a69a"/>
<rect x="754" y="159" width="1" height="16" fill="#26a69a"/>
<rect x="753" y="168" width="3" height="2" fill="#26a69a"/>
<rect x="758" y="147" width="1" height="23" fill="#26a69a"/>
<rect x="757" y="148" width="3" height="21" fill="#26a69a"/>
<rect x="761" y="133" width="1" height="18" fill="#26a69a"/>
<rect x="760" y="135" width="3" height="14" fill="#26a69a"/>
<rect x="765" y="113" width="1" height="24" fill="#26a69a"/>
<rect x="764" y="114" width="3" height="22" fill="#26a69a"/>
<rect x="768" y="112" width="1" height="17" fill="#ef5350"/>
<rect x="767" y="114" width="3" height="15" fill="#ef5350"/>
<rect x="771" y="120" width="1" height="19" fill="#ef5350"/>
<rect x="770" y="128" width="3" height="9" fill="#ef5350"/>
<rect x="775" y="108" width="1" height="31" fill="#26a69a"/>
<rect x="774" y="110" width="3" height="27" fill="#26a69a"/>
<rect x="778" y="104" width="1" height="18" fill="#ef5350"/>
<rect x="777" y="110" width="3" height="6" fill="#ef5350"/>
<rect x="782" y="115" width="1" height="21" fill="#ef5350"/>
<rect x="781" y="116" width="3" height="14" fill="#ef5350"/>
<rect x="785" y="122" width="1" height="19" fill="#ef5350"/>
<rect x="784" y="130" width="3" height="4" fill="#ef5350"/>
<rect x="788" y="121" width="1" height="18" fill="#26a69a"/>
<rect x="787" y="126" width="3" height="8" fill="#26a69a"/>
<rect x="792" y="123" width="1" height="18" fill="#ef5350"/>
<rect x="791" y="126" width="3" height="11" fill="#ef5350"/>
<rect x="795" y="130" width="1" height="11" fill="#26a69a"/>
<rect x="794" y="135" width="3" height="2" fill="#26a69a"/>
<rect x="799" y="118" width="1" height="19" fill="#26a69a"/>
<rect x="798" y="126" width="3" height="10" fill="#26a69a"/>
<rect x="802" y="123" width="1" height="9" fill="#ef5350"/>
<rect x="801" y="126" width="3" height="3" fill="#ef5350"/>
<rect x="806" y="108" width="1" height="22" fill="#26a69a"/>
<rect x="805" y="114" width="3" height="15" fill="#26a69a"/>
<rect x="809" y="114" width="1" height="8" fill="#ef5350"/>
<rect x="808" y="114" width="3" height="8" fill="#ef5350"/>
<rect x="812" y="121" width="1" height="16" fill="#ef5350"/>
<rect x="811" y="122" width="3" height="15" fill="#ef5350"/>
<rect x="816" y="135" width="1" height="18" fill="#ef5350"/>
<rect x="815" y="137" width="3" height="4" fill="#ef5350"/>
<rect x="819" y="136" width="1" height="20" fill="#ef5350"/>
<rect x="818" y="141" width="3" height="9" fill="#ef5350"/>
<rect x="823" y="136" width="1" height="15" fill="#26a69a"/>
<rect x="822" y="137" width="3" height="13" fill="#26a69a"/>
<rect x="826" y="126" width="1" height="13" fill="#26a69a"/>
<rect x="825" y="128" width="3" height="10" fill="#26a69a"/>
<rect x="829" y="122" width="1" height="10" fill="#26a69a"/>
<rect x="828" y="123" width="3" height="5" fill="#26a69a"/>
<rect x="833" y="110" width="1" height="20" fill="#26a69a"/>
<rect x="832" y="116" width="3" height="8" fill="#26a69a"/>
<rect x="836" y="97" width="1" height="22" fill="#26a69a"/>
<rect x="835" y="103" width="3" height="13" fill="#26a69a"/>
<rect x="840" y="93" width="1" height="15" fill="#26a69a"/>
<rect x="839" y="96" width="3" height="8" fill="#26a69a"/>
<rect x="843" y="80" width="1" height="22" fill="#26a69a"/>
<rect x="842" y="81" width="3" height="15" fill="#26a69a"/>
<rect x="847" y="55" width="1" height="27" fill="#26a69a"/>
<rect x="846" y="62" width="3" height="20" fill="#26a69a"/>
<rect x="850" y="55" width="1" height="11" fill="#26a69a"/>
<rect x="849" y="56" width="3" height="7" fill="#26a69a"/>
<rect x="853" y="54" width="1" height="4" fill="#26a69a"/>
<rect x="852" y="56" width="3" height="1" fill="#26a69a"/>
<rect x="857" y="48" width="1" height="10" fill="#26a69a"/>
<rect x="856" y="48" width="3" height="8" fill="#26a69a"/>
<rect x="860" y="43" width="1" height="7" fill="#26a69a"/>
<rect x="859" y="44" width="3" height="4" fill="#26a69a"/>
<rect x="864" y="37" width="1" height="13" fill="#26a69a"/>
<rect x="863" y="38" width="3" height="6" fill="#26a69a"/>
<rect x="867" y="36" width="1" height="39" fill="#ef5350"/>
<rect x="866" y="38" width="3" height="31" fill="#ef5350"/>
<rect x="871" y="60" width="1" height="21" fill="#26a69a"/>
<rect x="870" y="62" width="3" height="7" fill="#26a69a"/>
<rect x="874" y="59" width="1" height="50" fill="#ef5350"/>
<rect x="873" y="62" width="3" height="43" fill="#ef5350"/>
<rect x="877" y="92" width="1" height="24" fill="#26a69a"/>
<rect x="876" y="104" width="3" height="1" fill="#26a69a"/>
<rect x="881" y="96" width="1" height="42" fill="#ef5350"/>
<rect x="880" y="103" width="3" height="18" fill="#ef5350"/>
<rect x="884" y="109" width="1" height="21" fill="#ef5350"/>
<rect x="883" y="120" width="3" height="10" fill="#ef5350"/>
<rect x="888" y="125" width="1" height="22" fill="#ef5350"/>
<rect x="887" y="129" width="3" height="10" fill="#ef5350"/>
<rect x="891" y="129" width="1" height="15" fill="#26a69a"/>
<rect x="890" y="129" width="3" height="10" fill="#26a69a"/>
<rect x="894" y="128" width="1" height="32" fill="#ef5350"/>
<rect x="893" y="129" width="3" height="19" fill="#ef5350"/>
<rect x="898" y="125" width="1" height="27" fill="#26a69a"/>
<rect x="897" y="135" width="3" height="13" fill="#26a69a"/>
<rect x="901" y="135" width="1" height="26" fill="#ef5350"/>
<rect x="900" y="135" width="3" height="24" fill="#ef5350"/>
<rect x="905" y="151" width="1" height="23" fill="#ef5350"/>
<rect x="904" y="158" width="3" height="1" fill="#ef5350"/>
<rect x="908" y="152" width="1" height="47" fill="#ef5350"/>
<rect x="907" y="159" width="3" height="34" fill="#ef5350"/>
<rect x="912" y="183" width="1" height="22" fill="#26a69a"/>
<rect x="911" y="187" width="3" height="6" fill="#26a69a"/>
<rect x="915" y="185" width="1" height="12" fill="#ef5350"/>
<rect x="914" y="187" width="3" height="5" fill="#ef5350"/>
<rect x="918" y="164" width="1" height="28" fill="#26a69a"/>
<rect x="917" y="165" width="3" height="27" fill="#26a69a"/>
<rect x="922" y="164" width="1" height="15" fill="#ef5350"/>
<rect x="921" y="165" width="3" height="9" fill="#ef5350"/>
<rect x="925" y="169" width="1" height="24" fill="#ef5350"/>
<rect x="924" y="174" width="3" height="9" fill="#ef5350"/>
<rect x="929" y="171" width="1" height="14" fill="#26a69a"/>
<rect x="928" y="172" width="3" height="11" fill="#26a69a"/>
<rect x="932" y="168" width="1" height="18" fill="#ef5350"/>
<rect x="931" y="172" width="3" height="5" fill="#ef5350"/>
<rect x="935" y="164" width="1" height="16" fill="#ef5350"/>
<rect x="934" y="177" width="3" height="3" fill="#ef5350"/>
<rect x="939" y="177" width="1" height="26" fill="#ef5350"/>
<rect x="938" y="180" width="3" height="13" fill="#ef5350"/>
<rect x="942" y="184" width="1" height="16" fill="#26a69a"/>
<rect x="941" y="189" width="3" height="4" fill="#26a69a"/>
<rect x="946" y="186" width="1" height="18" fill="#ef5350"/>
<rect x="945" y="188" width="3" height="8" fill="#ef5350"/>
<rect x="949" y="188" width="1" height="21" fill="#ef5350"/>
<rect x="948" y="195" width="3" height="11" fill="#ef5350"/>
<rect x="953" y="204" width="1" height="9" fill="#ef5350"/>
<rect x="952" y="205" width="3" height="1" fill="#ef5350"/>
<rect x="956" y="185" width="1" height="21" fill="#26a69a"/>
<rect x="955" y="186" width="3" height="20" fill="#26a69a"/>
<rect x="959" y="180" width="1" height="16" fill="#ef5350"/>
<rect x="958" y="186" width="3" height="3" fill="#ef5350"/>
<rect x="963" y="177" width="1" height="15" fill="#26a69a"/>
<rect x="962" y="185" width="3" height="4" fill="#26a69a"/>
<rect x="966" y="180" width="1" height="17" fill="#ef5350"/>
<rect x="965" y="185" width="3" height="1" fill="#ef5350"/>
<rect x="970" y="172" width="1" height="16" fill="#26a69a"/>
<rect x="969" y="173" width="3" height="14" fill="#26a69a"/>
<rect x="973" y="166" width="1" height="13" fill="#26a69a"/>
<rect x="972" y="170" width="3" height="3" fill="#26a69a"/>
<rect x="976" y="164" width="1" height="8" fill="#26a69a"/>
<rect x="975" y="165" width="3" height="5" fill="#26a69a"/>
<rect x="980" y="165" width="1" height="19" fill="#ef5350"/>
<rect x="979" y="166" width="3" height="9" fill="#ef5350"/>
<rect x="983" y="173" width="1" height="23" fill="#ef5350"/>
<rect x="982" y="175" width="3" height="16" fill="#ef5350"/>
<rect x="987" y="181" width="1" height="17" fill="#26a69a"/>
<rect x="986" y="186" width="3" height="5" fill="#26a69a"/>
<rect x="990" y="183" width="1" height="20" fill="#ef5350"/>
<rect x="989" y="186" width="3" height="9" fill="#ef5350"/>
<rect x="994" y="195" width="1" height="15" fill="#ef5350"/>
<rect x="993" y="195" width="3" height="11" fill="#ef5350"/>
<rect x="997" y="197" width="1" height="13" fill="#26a69a"/>
<rect x="996" y="205" width="3" height="1" fill="#26a69a"/>
<rect x="1000" y="200" width="1" height="10" fill="#ef5350"/>
<rect x="999" y="205" width="3" height="1" fill="#ef5350"/>
<rect x="1004" y="203" width="1" height="20" fill="#ef5350"/>
<rect x="1003" y="205" width="3" height="3" fill="#ef5350"/>
<rect x="1007" y="205" width="1" height="14" fill="#26a69a"/>
<rect x="1006" y="206" width="3" height="2" fill="#26a69a"/>
<rect x="1011" y="190" width="1" height="27" fill="#26a69a"/>
<rect x="1010" y="197" width="3" height="10" fill="#26a69a"/>
<rect x="1014" y="184" width="1" height="16" fill="#ef5350"/>
<rect x="1013" y="197" width="3" height="3" fill="#ef5350"/>
<rect x="1017" y="186" width="1" height="15" fill="#26a69a"/>
<rect x="1016" y="187" width="3" height="13" fill="#26a69a"/>
<rect x="1021" y="186" width="1" height="13" fill="#ef5350"/>
<rect x="1020" y="187" width="3" height="7" fill="#ef5350"/>
<rect x="1024" y="176" width="1" height="19" fill="#26a69a"/>
<rect x="1023" y="176" width="3" height="18" fill="#26a69a"/>
<rect x="1028" y="176" width="1" height="22" fill="#ef5350"/>
<rect x="1027" y="176" width="3" height="18" fill="#ef5350"/>
<rect x="1031" y="188" width="1" height="12" fill="#26a69a"/>
<rect x="1030" y="192" width="3" height="2" fill="#26a69a"/>
<rect x="1035" y="184" width="1" height="14" fill="#26a69a"/>
<rect x="1034" y="185" width="3" height="7" fill="#26a69a"/>
<rect x="1038" y="178" width="1" height="10" fill="#26a69a"/>
<rect x="1037" y="179" width="3" height="6" fill="#26a69a"/>
<line x1="5" y1="179.5" x2="1182" y2="179.5" stroke="#26a69a" stroke-width="1" stroke-dasharray="1,2"/>
<line x1="50" y1="34.5" x2="1182" y2="34.5" stroke="#1b5e20" stroke-width="1"/>
<text x="1174.5" y="44.8" text-anchor="end" class="fibt">0(20630.8)</text>
<line x1="50" y1="193.5" x2="1182" y2="193.5" stroke="#1b5e20" stroke-width="1"/>
<text x="1174.5" y="203.8" text-anchor="end" class="fibt">0.382(17141.2)</text>
<line x1="50" y1="242.5" x2="1182" y2="242.5" stroke="#1b5e20" stroke-width="1"/>
<text x="1174.5" y="252.8" text-anchor="end" class="fibt">0.5(16063.3)</text>
<line x1="50" y1="291.5" x2="1182" y2="291.5" stroke="#1b5e20" stroke-width="1"/>
<text x="1174.5" y="301.8" text-anchor="end" class="fibt">0.618(14985.4)</text>
<line x1="50" y1="450.5" x2="1182" y2="450.5" stroke="#1b5e20" stroke-width="1"/>
<text x="1174.5" y="460.8" text-anchor="end" class="fibt">1(11495.8)</text>
<line x1="4" y1="300.3" x2="1182" y2="308.8" stroke="#0d47a1" stroke-width="3"/>
<line x1="317" y1="225" x2="1182" y2="225" stroke="#2a1b8f" stroke-width="3.5"/>
<line x1="901" y1="149" x2="1079" y2="183" stroke="#0d47a1" stroke-width="3"/>
<line x1="881" y1="199" x2="1058" y2="235" stroke="#0d47a1" stroke-width="3"/>
<line x1="762.4" y1="113.6" x2="870.10" y2="31.40" stroke="#b71c1c" stroke-width="3.0" stroke-linecap="square" stroke-dasharray="0.01,8.989"/>
<g stroke="#1b5e20" stroke-width="3" fill="none" stroke-linecap="butt">
<line x1="1041.5" y1="150.4" x2="1116.4" y2="78.2"/>
<polyline points="1095.5,77.3 1116.4,78 1116.4,99.1"/>
<line x1="1020.8" y1="252.8" x2="1123.4" y2="324.3"/>
<polyline points="1120,305.5 1123.4,324.3 1102.4,329"/>
</g>
</g>
<line x1="5" y1="467.5" x2="1250" y2="467.5" stroke="#e0e3eb"/>
<line x1="5" y1="676.5" x2="1250" y2="676.5" stroke="#e0e3eb"/>
<line x1="1182.5" y1="6" x2="1182.5" y2="704" stroke="#e0e3eb"/>
<line x1="1182" y1="17.5" x2="1187" y2="17.5" stroke="#d0d0d4"/>
<text x="1192" y="21.5" class="ax">21000.0</text>
<line x1="1182" y1="63.5" x2="1187" y2="63.5" stroke="#d0d0d4"/>
<text x="1192" y="67.5" class="ax">20000.0</text>
<line x1="1182" y1="109.5" x2="1187" y2="109.5" stroke="#d0d0d4"/>
<text x="1192" y="113.5" class="ax">19000.0</text>
<line x1="1182" y1="154.5" x2="1187" y2="154.5" stroke="#d0d0d4"/>
<text x="1192" y="158.5" class="ax">18000.0</text>
<line x1="1182" y1="200.5" x2="1187" y2="200.5" stroke="#d0d0d4"/>
<line x1="1182" y1="245.5" x2="1187" y2="245.5" stroke="#d0d0d4"/>
<line x1="1182" y1="291.5" x2="1187" y2="291.5" stroke="#d0d0d4"/>
<text x="1192" y="295.5" class="ax">15000.0</text>
<line x1="1182" y1="336.5" x2="1187" y2="336.5" stroke="#d0d0d4"/>
<text x="1192" y="340.5" class="ax">14000.0</text>
<line x1="1182" y1="382.5" x2="1187" y2="382.5" stroke="#d0d0d4"/>
<text x="1192" y="386.5" class="ax">13000.0</text>
<line x1="1182" y1="427.5" x2="1187" y2="427.5" stroke="#d0d0d4"/>
<text x="1192" y="431.5" class="ax">12000.0</text>
<line x1="1182" y1="486.5" x2="1187" y2="486.5" stroke="#d0d0d4"/>
<text x="1192" y="490.5" class="ax">80.00</text>
<line x1="1182" y1="520.5" x2="1187" y2="520.5" stroke="#d0d0d4"/>
<text x="1192" y="524.5" class="ax">70.00</text>
<line x1="1182" y1="554.5" x2="1187" y2="554.5" stroke="#d0d0d4"/>
<text x="1192" y="558.5" class="ax">60.00</text>
<line x1="1182" y1="588.5" x2="1187" y2="588.5" stroke="#d0d0d4"/>
<text x="1192" y="592.5" class="ax">50.00</text>
<line x1="1182" y1="622.5" x2="1187" y2="622.5" stroke="#d0d0d4"/>
<text x="1192" y="626.5" class="ax">40.00</text>
<line x1="1182" y1="656.5" x2="1187" y2="656.5" stroke="#d0d0d4"/>
<text x="1192" y="660.5" class="ax">30.00</text>
<line x1="9.5" y1="676" x2="9.5" y2="680" stroke="#d0d0d4"/>
<text x="9.5" y="694.3" text-anchor="middle" clip-path="url(#ct)" class="ax">Mar</text>
<line x1="160.5" y1="676" x2="160.5" y2="680" stroke="#d0d0d4"/>
<text x="160.5" y="694.3" text-anchor="middle" clip-path="url(#ct)" class="ax">May</text>
<line x1="307.5" y1="676" x2="307.5" y2="680" stroke="#d0d0d4"/>
<text x="307.5" y="694.3" text-anchor="middle" clip-path="url(#ct)" class="ax">Jul</text>
<line x1="457.5" y1="676" x2="457.5" y2="680" stroke="#d0d0d4"/>
<text x="457.5" y="694.3" text-anchor="middle" clip-path="url(#ct)" class="ax">Sep</text>
<line x1="607.5" y1="676" x2="607.5" y2="680" stroke="#d0d0d4"/>
<text x="607.5" y="694.3" text-anchor="middle" clip-path="url(#ct)" class="ax">Nov</text>
<line x1="754.5" y1="676" x2="754.5" y2="680" stroke="#d0d0d4"/>
<text x="754.5" y="694.3" text-anchor="middle" clip-path="url(#ct)" class="ax b">2021</text>
<line x1="891.5" y1="676" x2="891.5" y2="680" stroke="#d0d0d4"/>
<text x="891.5" y="694.3" text-anchor="middle" clip-path="url(#ct)" class="ax">Mar</text>
<line x1="1045.5" y1="676" x2="1045.5" y2="680" stroke="#d0d0d4"/>
<text x="1045.5" y="694.3" text-anchor="middle" clip-path="url(#ct)" class="ax">May</text>
<rect x="4.5" y="5.5" width="1246" height="699" fill="none" stroke="#000" stroke-width="1.3"/>

<g>
<rect x="75" y="69" width="399.5" height="59.5" fill="#fff"/>
<g fill="#07384d">
<path d="M77.8,127.4 V70.2 H123.6 V83.4 H93.5 V93.9 H120.7 V107.3 H93.5 V127.4 Z"/>
<path fill-rule="evenodd" d="M199.9,127.5 V70.4 H229 C244.5,70.4 251.6,79 251.6,89.5 C251.6,98 247.5,104.6 239.5,107.4 L252.3,127.5 H234.4 L223.9,109.8 H215.7 V127.5 Z M215.7,83.7 V98 H228.5 C233,98 235.4,95 235.4,90.8 C235.4,86.6 233,83.7 228.5,83.7 Z"/>
<path d="M258.9,127.5 V70.4 H305.2 V83.2 H274.7 V93 H302.1 V104.9 H274.7 V113.7 H305.2 V127.5 Z"/>
<path d="M311.7,70.4 H329.9 L339.5,86.1 L350.1,70.4 H367.3 L348.6,98.9 L368.3,127.5 H350.1 L339.5,110.3 L328.4,127.5 H310.7 L329.9,98.9 Z"/>
<circle cx="377.4" cy="107.2" r="4.3"/>
<path d="M403.3,93.2 A8.2,8.2 0 1 0 403.3,106.8" fill="none" stroke="#07384d" stroke-width="7.6"/>
<circle cx="421" cy="100" r="8.6" fill="none" stroke="#07384d" stroke-width="7.6"/>
<path d="M437.5,111.6 V88.8 H445.1 V91.5 C446.5,89.3 448.5,88.2 451.5,88.2 C454.5,88.2 456.8,89.5 458,91.8 C459.6,89.5 462,88.2 465.3,88.2 C471,88.2 474.1,91.8 474.1,97.5 V111.6 H466.5 V98.5 C466.5,95.8 465.3,94.8 463.2,94.8 C460.8,94.8 459.4,96.2 459.4,99 V111.6 H451.8 V98.5 C451.8,95.8 450.6,94.8 448.5,94.8 C446.2,94.8 445.1,96.2 445.1,99 V111.6 Z"/>
</g>
<g fill="#0db35a">
<path fill-rule="evenodd" d="M157.2,68.9 C174,68.9 186.1,81.5 186.1,98.4 C186.1,115.3 173,127.9 155.5,127.9 C139,127.9 127.9,115.3 127.9,98.4 C127.9,81.5 140.5,68.9 157.2,68.9 Z M157.8,76.8 C150,76.8 144.6,85.5 144.6,98.9 C144.6,112.2 149,120.9 156.2,120.9 C164,120.9 169.3,112.2 169.3,98.9 C169.3,85.5 165,76.8 157.8,76.8 Z"/>
<path d="M161.4,92 H194.9 L193.4,97 H159.9 Z"/>
<path d="M159.4,101.9 H193.9 L192.3,107.3 H157.8 Z"/>
</g>
</g>


<g class="lbl">
<path d="M1182,170.9 H1242.8 Q1244.8,170.9 1244.8,172.9 V199.7 Q1244.8,201.7 1242.8,201.7 H1182 Z" fill="#26a69a"/>
<line x1="1182" y1="179.5" x2="1187" y2="179.5" stroke="#fff"/>
<text x="1192.3" y="183.9" fill="#fff" stroke="#fff">17451.0</text>
<text x="1192.3" y="197.7" fill="#e6f4f2" stroke="#e6f4f2" style="letter-spacing:0px">02:23:26</text>
<path d="M1182,202.2 H1238.7 Q1240.7,202.2 1240.7,204.2 V216.6 Q1240.7,218.6 1238.7,218.6 H1182 Z" fill="#26c6da"/>
<line x1="1182" y1="210.4" x2="1187" y2="210.4" stroke="#131722"/>
<text x="1192.3" y="214.7" fill="#131722" stroke="#131722">16847.7</text>
<path d="M1182,218.8 H1238.7 Q1240.7,218.8 1240.7,220.8 V233.3 Q1240.7,235.3 1238.7,235.3 H1182 Z" fill="#2196f3"/>
<line x1="1182" y1="227.2" x2="1187" y2="227.2" stroke="#fff"/>
<text x="1192.3" y="231.5" fill="#fff" stroke="#fff">16847.7</text>
<path d="M1182,235.5 H1238.7 Q1240.7,235.5 1240.7,237.5 V250.5 Q1240.7,252.5 1238.7,252.5 H1182 Z" fill="#311b92"/>
<line x1="1182" y1="244.5" x2="1187" y2="244.5" stroke="#fff"/>
<text x="1192.3" y="248.8" fill="#fff" stroke="#fff">16440.0</text>
<path d="M1182,568 H1225.8 Q1227.8,568 1227.8,570 V582.6 Q1227.8,584.6 1225.8,584.6 H1182 Z" fill="#8e18a0"/>
<line x1="1182" y1="576.5" x2="1187" y2="576.5" stroke="#fff"/>
<text x="1192.3" y="581" fill="#fff" stroke="#fff">53.41</text>
</g>
<rect x="1202.5" y="12.5" width="27" height="18" rx="4" fill="#fff" stroke="#d6d9e4"/>
<text x="1205.8" y="26" class="ax" textLength="20" lengthAdjust="spacingAndGlyphs">USD</text>
<g>
<circle cx="15.3" cy="721.2" r="6.1" fill="#2196f3"/>
<circle cx="8.3" cy="725" r="4.6" fill="#2196f3"/>
<circle cx="25.4" cy="725" r="4.8" fill="#2196f3"/>
<rect x="8.3" y="722" width="17.1" height="8" fill="#2196f3"/>
<polyline points="4.8,728.2 13.6,720.7 20.1,726.4 26.2,720.7" fill="none" stroke="#fff" stroke-width="1.2"/>
<circle cx="13.6" cy="720.7" r="1.9" fill="#fff"/>
<circle cx="20.1" cy="726.4" r="1.9" fill="#fff"/>
</g>
<text x="32.4" y="726.9" style="font-size:12.6px;fill:#131722">TradingView</text>

<rect x="94" y="10" width="58" height="14" fill="#fff"/>
<text x="13" y="27" style="font-size:12px;font-weight:bold;fill:#131722">CN50USD, 1D,</text>
</svg>
</body></html>
